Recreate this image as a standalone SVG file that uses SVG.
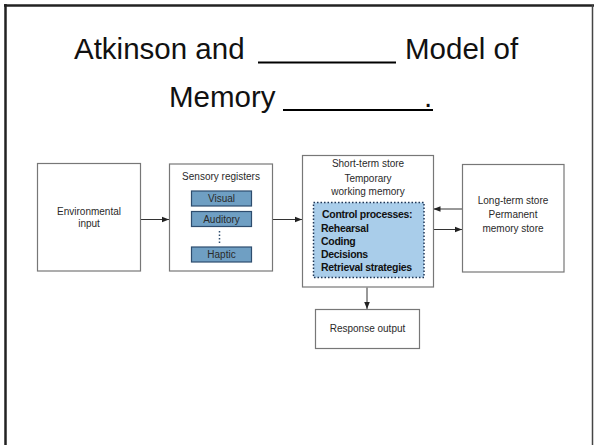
<svg xmlns="http://www.w3.org/2000/svg" width="594" height="445" viewBox="0 0 594 445">
<defs>
<style>
.title{font-family:"Liberation Sans",Arial,sans-serif;font-size:29.5px;fill:#111}
.lbl{font-family:"Liberation Sans",Arial,sans-serif;font-size:10px;fill:#2a2a2a;text-anchor:middle}
.cp{font-family:"Liberation Sans",Arial,sans-serif;font-size:10.5px;fill:#111;font-weight:bold;letter-spacing:-0.3px}
.box{fill:#fff;stroke:#777;stroke-width:1.2}
.reg{fill:#6f9fc3;stroke:#2e4d6e;stroke-width:1.2}
.ctrl{fill:#a9cdea;stroke:#1f3555;stroke-width:1.5;stroke-dasharray:1.5 2}
.con{stroke:#333;stroke-width:1;fill:none}
.ul{stroke:#000;stroke-width:1.8}
</style>
<marker id="ah" viewBox="0 0 10 10" refX="10" refY="5" markerWidth="7" markerHeight="7" orient="auto" markerUnits="userSpaceOnUse">
<path d="M0,1 L10,5 L0,9 Z" fill="#222"/>
</marker>
</defs>
<rect width="594" height="445" fill="#fff"/>
<g id="frame">
<line x1="4" y1="5.5" x2="594" y2="5.5" stroke="#222" stroke-width="2.5"/>
<line x1="5.5" y1="4" x2="5.5" y2="445" stroke="#222" stroke-width="2.5"/>
<line x1="592.5" y1="5" x2="592.5" y2="445" stroke="#444" stroke-width="1.5"/>
</g>
<g id="title">
<text class="title" x="74" y="59">Atkinson and</text>
<line class="ul" x1="258" y1="62.5" x2="396" y2="62.5"/>
<text class="title" x="405" y="59">Model of</text>
<text class="title" x="169" y="107">Memory</text>
<line class="ul" x1="283" y1="110" x2="433" y2="110"/>
<text class="title" x="424" y="107">.</text>
</g>
<g id="connectors">
<line class="con" x1="141" y1="219.5" x2="169" y2="219.5" marker-end="url(#ah)"/>
<line class="con" x1="273" y1="219.5" x2="302" y2="219.5" marker-end="url(#ah)"/>
<line class="con" x1="462" y1="209" x2="433.5" y2="209" marker-end="url(#ah)"/>
<line class="con" x1="433.5" y1="229.5" x2="462" y2="229.5" marker-end="url(#ah)"/>
<line class="con" x1="367" y1="287.5" x2="367" y2="309" marker-end="url(#ah)"/>
</g>
<g id="env">
<rect class="box" x="37.5" y="163.5" width="103" height="107.5"/>
<text class="lbl" x="89" y="215">Environmental</text>
<text class="lbl" x="89" y="227">input</text>
</g>
<g id="sensory">
<rect class="box" x="169.5" y="164" width="103" height="107"/>
<text class="lbl" x="221" y="180">Sensory registers</text>
<rect class="reg" x="191.5" y="191" width="60" height="15"/>
<text class="lbl" x="221.5" y="202">Visual</text>
<rect class="reg" x="191.5" y="211.5" width="60" height="15"/>
<text class="lbl" x="221.5" y="222.5">Auditory</text>
<line x1="219.5" y1="231" x2="219.5" y2="245" stroke="#2e4d6e" stroke-width="1.5" stroke-dasharray="1.5 2"/>
<rect class="reg" x="191.5" y="247" width="60" height="15"/>
<text class="lbl" x="221.5" y="258">Haptic</text>
</g>
<g id="sts">
<rect class="box" x="302.5" y="155.5" width="131" height="131.5"/>
<text class="lbl" x="368" y="167">Short-term store</text>
<text class="lbl" x="368" y="182">Temporary</text>
<text class="lbl" x="368" y="195">working memory</text>
<rect class="ctrl" x="313.5" y="202.5" width="110.5" height="75"/>
<text class="cp" x="322" y="218">Control processes:</text>
<text class="cp" x="321" y="231.5">Rehearsal</text>
<text class="cp" x="321" y="244.5">Coding</text>
<text class="cp" x="321" y="257.5">Decisions</text>
<text class="cp" x="321" y="270.5">Retrieval strategies</text>
</g>
<g id="lts">
<rect class="box" x="462.5" y="164.5" width="101.5" height="107.5"/>
<text class="lbl" x="513" y="204">Long-term store</text>
<text class="lbl" x="513" y="218">Permanent</text>
<text class="lbl" x="513" y="232">memory store</text>
</g>
<g id="response">
<rect class="box" x="315.5" y="309.5" width="104" height="39"/>
<text class="lbl" x="367.5" y="332">Response output</text>
</g>
</svg>
